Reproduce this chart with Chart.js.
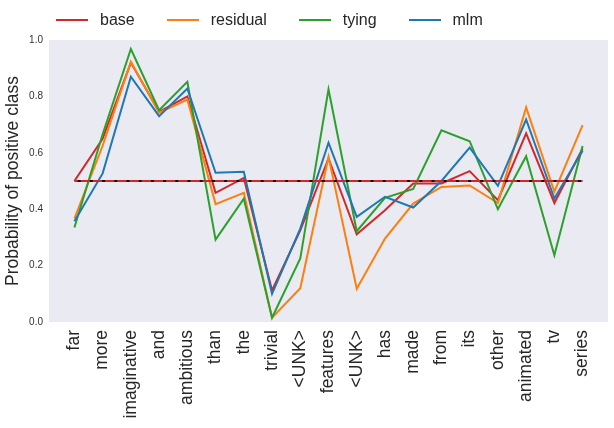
<!DOCTYPE html>
<html>
<head>
<meta charset="utf-8">
<script src="https://cdn.jsdelivr.net/npm/chart.js@4.4.1/dist/chart.umd.min.js"></script>
<style>
  html, body { margin: 0; padding: 0; background: #fff; }
  #wrap { position: relative; width: 614px; height: 428px; }
  #legend { position: absolute; left: 56px; top: 9px; display: flex;
            font: 16px "Liberation Sans", Arial, sans-serif; line-height: 22px; color: #262626; }
  #legend .item { display: flex; align-items: center; margin-right: 32px; }
  #legend .swatch { width: 32px; height: 2px; margin-right: 12px; }
</style>
</head>
<body>
<div id="wrap">
  <canvas id="chart"></canvas>
  <div id="legend"></div>
</div>
<script>
var words = ['far', 'more', 'imaginative', 'and', 'ambitious', 'than', 'the', 'trivial', '<UNK>',
             'features', '<UNK>', 'has', 'made', 'from', 'its', 'other', 'animated', 'tv', 'series'];

var base     = [0.50, 0.65, 0.92, 0.745, 0.80, 0.458, 0.511, 0.112, 0.325, 0.58,
                0.311, 0.396, 0.491, 0.491, 0.535, 0.432, 0.669, 0.422, 0.615];
var residual = [0.367, 0.625, 0.923, 0.742, 0.789, 0.418, 0.458, 0.015, 0.12, 0.586,
                0.118, 0.296, 0.42, 0.479, 0.484, 0.422, 0.761, 0.462, 0.698];
var tying    = [0.335, 0.666, 0.968, 0.751, 0.852, 0.292, 0.437, 0.015, 0.225, 0.825,
                0.322, 0.44, 0.472, 0.68, 0.641, 0.40, 0.588, 0.237, 0.624];
var mlm      = [0.357, 0.527, 0.87, 0.73, 0.828, 0.529, 0.533, 0.10, 0.331, 0.636,
                0.373, 0.444, 0.406, 0.50, 0.618, 0.483, 0.718, 0.438, 0.607];

var chance = 0.5;
var yTicks = [0, 0.2, 0.4, 0.6, 0.8, 1.0];

var seriesNames  = ['base', 'residual', 'tying', 'mlm'];
var seriesValues = [base, residual, tying, mlm];
var seriesColors = ['#d62728', '#ff7f0e', '#2ca02c', '#1f77b4'];

Chart.defaults.font.family = '"Liberation Sans", Arial, sans-serif';
Chart.defaults.color = '#262626';

var toPoints = function(values) {
  return values.map(function(v, i) { return { x: i, y: v }; });
};

var plotBackground = {
  id: 'plotBackground',
  beforeDraw: function(chart) {
    var a = chart.chartArea, ctx = chart.ctx;
    ctx.save();
    ctx.fillStyle = '#eaeaf2';
    ctx.fillRect(a.left, a.top, a.right - a.left, a.bottom - a.top);
    ctx.restore();
  }
};

// legend as html, so spacing can follow the reference
var htmlLegend = {
  id: 'htmlLegend',
  afterUpdate: function(chart) {
    var box = document.getElementById('legend');
    box.innerHTML = '';
    chart.data.datasets.forEach(function(ds) {
      if (!ds.inLegend) return;
      var item = document.createElement('div');
      item.className = 'item';
      var sw = document.createElement('span');
      sw.className = 'swatch';
      sw.style.background = ds.borderColor;
      var txt = document.createElement('span');
      txt.textContent = ds.label;
      item.appendChild(sw);
      item.appendChild(txt);
      box.appendChild(item);
    });
  }
};

var datasets = seriesNames.map(function(name, k) {
  return {
    label: name,
    data: toPoints(seriesValues[k]),
    borderColor: seriesColors[k],
    backgroundColor: seriesColors[k],
    borderWidth: 2,
    pointRadius: 0,
    tension: 0,
    order: 5 - k,
    inLegend: true
  };
});

datasets.push({
  label: 'chance',
  data: [{ x: 0, y: chance }, { x: words.length - 1, y: chance }],
  borderColor: '#d62728',
  borderWidth: 2,
  pointRadius: 0,
  order: 1
});
datasets.push({
  label: 'chance dashed',
  data: [{ x: 0, y: chance }, { x: words.length - 1, y: chance }],
  borderColor: '#111111',
  borderWidth: 2,
  borderDash: [3, 9.2],
  borderDashOffset: 8.9,
  pointRadius: 0,
  order: 0
});

new Chart(document.getElementById('chart'), {
  type: 'line',
  data: { datasets: datasets },
  plugins: [plotBackground, htmlLegend],
  options: {
    responsive: true,
    maintainAspectRatio: false,
    animation: false,
    layout: { padding: { top: 40, right: 6, left: 0, bottom: 0 } },
    plugins: {
      legend: { display: false },
      tooltip: { enabled: false }
    },
    scales: {
      x: {
        type: 'linear',
        min: -0.9,
        max: words.length - 1 + 0.9,
        grid: { display: false, drawTicks: false },
        border: { display: false },
        afterBuildTicks: function(scale) {
          scale.ticks = words.map(function(w, i) { return { value: i }; });
        },
        afterFit: function(scale) { scale.height = 106; },
        ticks: {
          autoSkip: false,
          minRotation: 90,
          maxRotation: 90,
          padding: 8,
          color: '#262626',
          font: { size: 17.5 },
          callback: function(value) { return words[value]; }
        }
      },
      y: {
        min: 0,
        max: 1,
        grid: { display: false, drawTicks: false },
        border: { display: false },
        afterBuildTicks: function(scale) {
          scale.ticks = yTicks.map(function(v) { return { value: v }; });
        },
        afterFit: function(scale) { scale.width = 49; },
        ticks: {
          padding: 6,
          color: '#333333',
          font: { size: 10 },
          callback: function(value) { return value.toFixed(1); }
        },
        title: {
          display: true,
          text: 'Probability of positive class',
          color: '#262626',
          padding: { top: 3, bottom: 0 },
          font: { size: 17.5 }
        }
      }
    }
  }
});
</script>
</body>
</html>
